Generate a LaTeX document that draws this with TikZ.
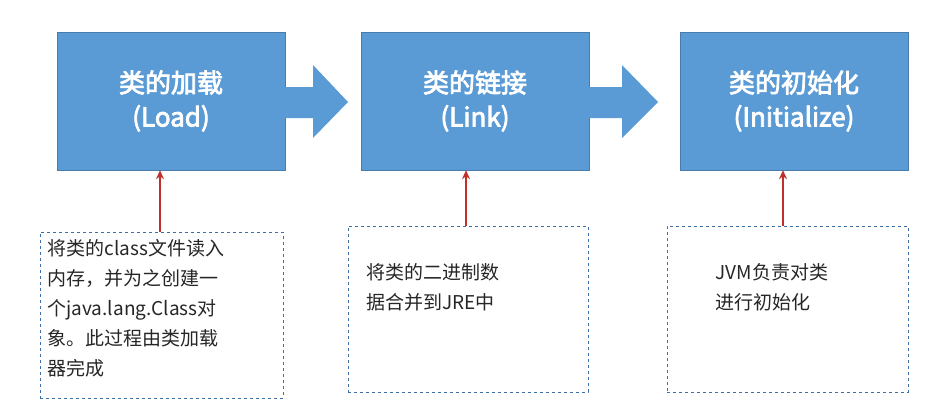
\documentclass[tikz,border=0pt]{standalone}
\usepackage{fontspec}
\setmainfont{Noto Sans CJK SC}[AutoFakeBold=3]
\usetikzlibrary{arrows.meta}
\definecolor{bl}{HTML}{5B9BD5}
\definecolor{rd}{HTML}{C0302A}
\definecolor{dl}{HTML}{3A6FA8}
\tikzset{
 stage/.style={fill=bl,draw=bl!80!black,minimum width=228pt,minimum height=138pt,text=white,font=\bfseries\fontsize{26}{34}\selectfont,align=center},
 note/.style={draw=dl,dashed},
 notetext/.style={anchor=north west,align=left,font=\fontsize{19}{30}\selectfont,text=black!85},
 up/.style={draw=rd,line width=1.5pt,-{Stealth[length=9pt,width=8pt]}},
 barrow/.style={fill=bl}
}
\begin{document}
\begin{tikzpicture}[x=1pt,y=-1pt]
\useasboundingbox (0,0) rectangle (937,410);
\node[stage] (s1) at (171,101) {类的加载\\(Load)};
\node[stage] (s2) at (475,101) {类的链接\\(Link)};
\node[stage] (s3) at (794,101) {类的初始化\\(Initialize)};
\fill[barrow] (s1.east |- 0,87) -- (313,87) -- (313,65) -- (348,102) -- (313,138) -- (313,118) -- (s1.east |- 0,118) -- cycle;
\fill[barrow] (s2.east |- 0,87) -- (622,87) -- (622,65) -- (658,102) -- (622,138) -- (622,118) -- (s2.east |- 0,118) -- cycle;
\node[note,minimum width=243pt,minimum height=166pt] (n1) at (161.5,315) {};
\node[note,minimum width=240pt,minimum height=166pt] (n2) at (468,309) {};
\node[note,minimum width=241pt,minimum height=166pt] (n3) at (787.5,309) {};
\node[notetext] (t1) at (44,236) {将类的class文件读入\\内存，并为之创建一\\个java.lang.Class对\\象。此过程由类加载\\器完成};
\node[notetext] (t2) at (363,260) {将类的二进制数\\据合并到JRE中};
\node[notetext] (t3) at (712,260) {JVM负责对类\\进行初始化};
\draw[up] (n1.north -| 160,0) -- (s1.south -| 160,0);
\draw[up] (n2.north -| 466,0) -- (s2.south -| 466,0);
\draw[up] (n3.north -| 783,0) -- (s3.south -| 783,0);
\end{tikzpicture}
\end{document}
